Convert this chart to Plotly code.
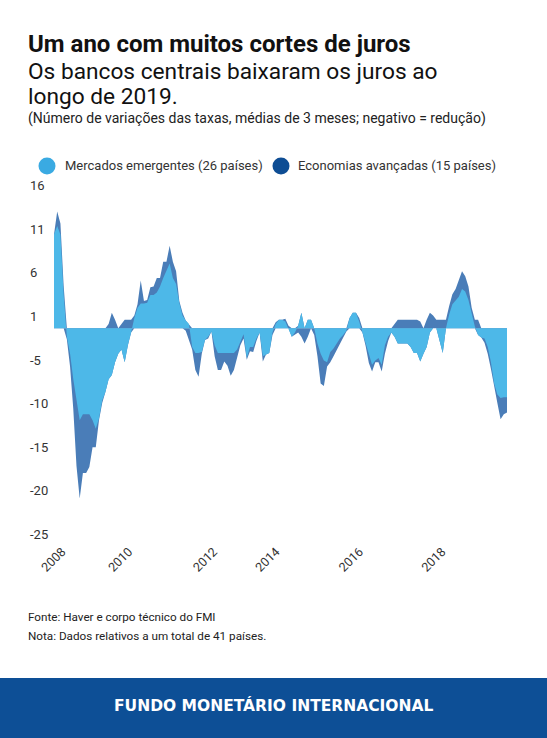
import numpy as np
import plotly.graph_objects as go

# ---------------- data ----------------
emerging = [
    11, 12, 11, 4, -1, -3, -6, -8.5, -10.8, -10.1,
    -10.1, -10.1, -10.8, -11.8, -10.6, -8.5, -7.5, -6, -5.5, -4,
    -3, -2.5, -4, -2, -0.5, 1.2, 2.4, 2.9, 2.9, 3.0,
    3.9, 3.9, 4.2, 4.9, 5.9, 6.7, 7.6, 5.9, 5.2, 3.0,
    1.5, 0.9, 0.5, -2.2, -2.9, -2.9, -2.8, -1.4, -1.0, -0.4,
    -2, -2.9, -2.9, -2.9, -2.9, -2.9, -2.9, -2.5, -1.5, -0.7,
    -3.5, -2.2, -2.2, -1.2, -0.5, -3.3, -3.1, -2.9, -0.5, 0.5,
    1, 1, 0.8, 0, -1, -0.5, 0.3, 1.8, 0, 1,
    1, 0, -1.8, -3, -3.8, -4.0, -2.8, -2.4, -1.8, -1.2,
    -0.8, -0.3, 1.2, 1.8, 1.8, 0.8, -0.5, -1.8, -3.3, -4.3,
    -3.8, -3.5, -4.3, -2.0, -1.0, -0.5, -1, -1.8, -1.8, -1.8,
    -1.8, -2.2, -2.9, -2.9, -3.9, -3.0, -2.2, -0.5, 0, 0,
    -1.5, -2.9, 0, 1.6, 2.8, 3.3, 3.7, 4.6, 4.3, 3.3,
    1.8, 0.2, -0.8, -1.1, -1.2, -2.2, -4.0, -6.5, -7.8, -8.2,
    -8.1, -8.1,
]
advanced = [
    0, 1.7, 1.3, 1, -0.3, -1.5, -3.5, -7.7, -9.2, -6.9,
    -6.9, -6.2, -3.2, -2.2, -0.2, -0.3, 0, 0.5, 1.8, 1.0,
    0, 0.5, 1, 1, 1, 0.3, 0.4, 2.7, 0.3, 0.3,
    0.9, 1.0, 1.7, 1.0, 1.9, 1.1, 2.1, 1.9, 1.5, 0.2,
    0.3, -0.3, -1.3, -0.3, -2, -2.8, -0.2, 0, -0.2, 0,
    -1.3, -2, -2, -1, -1.5, -2.7, -2, -0.9, -0.5, -0.5,
    -0.2, -0.5, -0.6, -0.3, 0, -0.6, 0, 0, -0.3, 0.2,
    0, 0, 0.3, 0.3, 0, -0.3, -0.5, -1.0, -1.8, -1.0,
    0, -0.8, -1.5, -3.5, -3, -0.5, -1.2, -0.9, -0.8, -0.6,
    -0.4, -0.1, 0, 0, 0, 0.4, 0, -0.3, -0.8, -0.8,
    -0.2, -0.5, -0.8, -1.0, -0.5, 0, 0.5, 1, 1, 1,
    1, 1, 1, 1, 0.8, 0, 1.0, 1.8, 1.5, 1,
    1, 1, 1, 1.0, 1.2, 1.3, 1.9, 2.1, 1.8, 1.6,
    0.6, 0.8, 1.0, 0, -0.5, -0.8, -0.8, -0.5, -1.0, -2.5,
    -2.0, -1.8,
]
year_labels = ["2008", "2010", "2012", "2014", "2016", "2018"]
y_tick_labels = ["16", "11", "6", "1", "-5", "-10", "-15", "-20", "-25"]
series_names = ["Mercados emergentes (26 países)", "Economias avançadas (15 países)"]

# ---------------- layout constants ----------------
W, H = 547, 738
ML, MR, MT, MB = 54, 40, 192, 197
PW = W - ML - MR
PH = H - MT - MB
PLOT_BOTTOM = H - MB

def px(x):
    return (x - ML) / PW

def py(y):
    return (PLOT_BOTTOM - y) / PH

LIGHT = "#4db8e8"
DARK = "#4a7db8"
LEG_LIGHT = "#3aaae2"
LEG_DARK = "#0e4d94"
BANNER = "#0d4f96"
FONT = "Roboto"

em = np.array(emerging, dtype=float)
ae = np.array(advanced, dtype=float)
x = np.arange(len(em))
pos_total = np.maximum(em, 0) + np.maximum(ae, 0)
neg_total = np.minimum(em, 0) + np.minimum(ae, 0)

fig = go.Figure()
for env in (pos_total, neg_total):
    fig.add_trace(go.Scatter(x=x, y=env, mode="lines", line=dict(width=0, color=DARK),
                             fill="tozeroy", fillcolor=DARK, hoverinfo="skip",
                             name=series_names[1], showlegend=False))
fig.add_trace(go.Scatter(x=x, y=em, mode="lines", line=dict(width=0, color=LIGHT),
                         fill="tozeroy", fillcolor=LIGHT, name=series_names[0],
                         showlegend=False))

# x ticks (index positions of year labels as laid out in the original)
tick_pos = [2.5, 23.3, 49.7, 69.1, 95.1, 120.8]

fig.update_layout(
    width=W, height=H,
    margin=dict(l=ML, r=MR, t=MT, b=MB),
    paper_bgcolor="white", plot_bgcolor="white",
    font=dict(family=FONT, color="#333333"),
    xaxis=dict(range=[0, len(em) - 1], tickvals=tick_pos, ticktext=year_labels,
               tickangle=-45, showgrid=False, zeroline=False, showline=False,
               ticks="", tickfont=dict(size=12.5, color="#333333")),
    yaxis=dict(range=[-25, 16], showgrid=False, zeroline=False, showline=False,
               showticklabels=False, ticks=""),
    showlegend=False,
)

ann = []
# y tick labels
for v, t in zip(np.linspace(16, -25, len(y_tick_labels)), y_tick_labels):
    ann.append(dict(x=px(28), xref="paper", y=v, yref="y", text=t, showarrow=False,
                    xanchor="left", yanchor="middle", yshift=6.5,
                    font=dict(size=13, color="#333333", family=FONT)))

def text(xp, yp, t, size, color="#111111", bold=False, xanchor="left", family=FONT):
    ann.append(dict(x=px(xp), y=py(yp), xref="paper", yref="paper",
                    text=f"<b>{t}</b>" if bold else t, showarrow=False,
                    xanchor=xanchor, yanchor="middle",
                    font=dict(size=size, color=color, family=family)))

text(26, 44, "Um ano com muitos cortes de juros", 24, "#111111", bold=True)
text(26, 71, "Os bancos centrais baixaram os juros ao", 22.7, "#111111")
text(26, 96, "longo de 2019.", 22.7, "#111111")
text(26, 118, "(Número de variações das taxas, médias de 3 meses; negativo = redução)", 14, "#222222")
text(63, 166, series_names[0], 13, "#333333")
text(296, 166, series_names[1], 13, "#333333")
text(26, 617, "Fonte: Haver e corpo técnico do FMI", 11.7, "#222222")
text(26, 636, "Nota: Dados relativos a um total de 41 países.", 11.7, "#222222")

shapes = []
r = 8.5
for cx, col in ((47, LEG_LIGHT), (281, LEG_DARK)):
    shapes.append(dict(type="circle", xref="paper", yref="paper",
                       x0=px(cx - r), x1=px(cx + r), y0=py(166 + r), y1=py(166 - r),
                       fillcolor=col, line=dict(width=0)))
shapes.append(dict(type="rect", xref="paper", yref="paper", x0=px(-2), x1=px(W + 2),
                   y0=py(H + 2), y1=py(678), fillcolor=BANNER, line=dict(width=0),
                   layer="below"))
text(W / 2, 705, "FUNDO MONETÁRIO INTERNACIONAL", 15.5, "white", bold=True,
     xanchor="center", family="DejaVu Sans")

fig.update_layout(annotations=ann, shapes=shapes)
fig.write_html("out.html", config={"displayModeBar": False},
               post_script="document.body.style.margin='0px';")
